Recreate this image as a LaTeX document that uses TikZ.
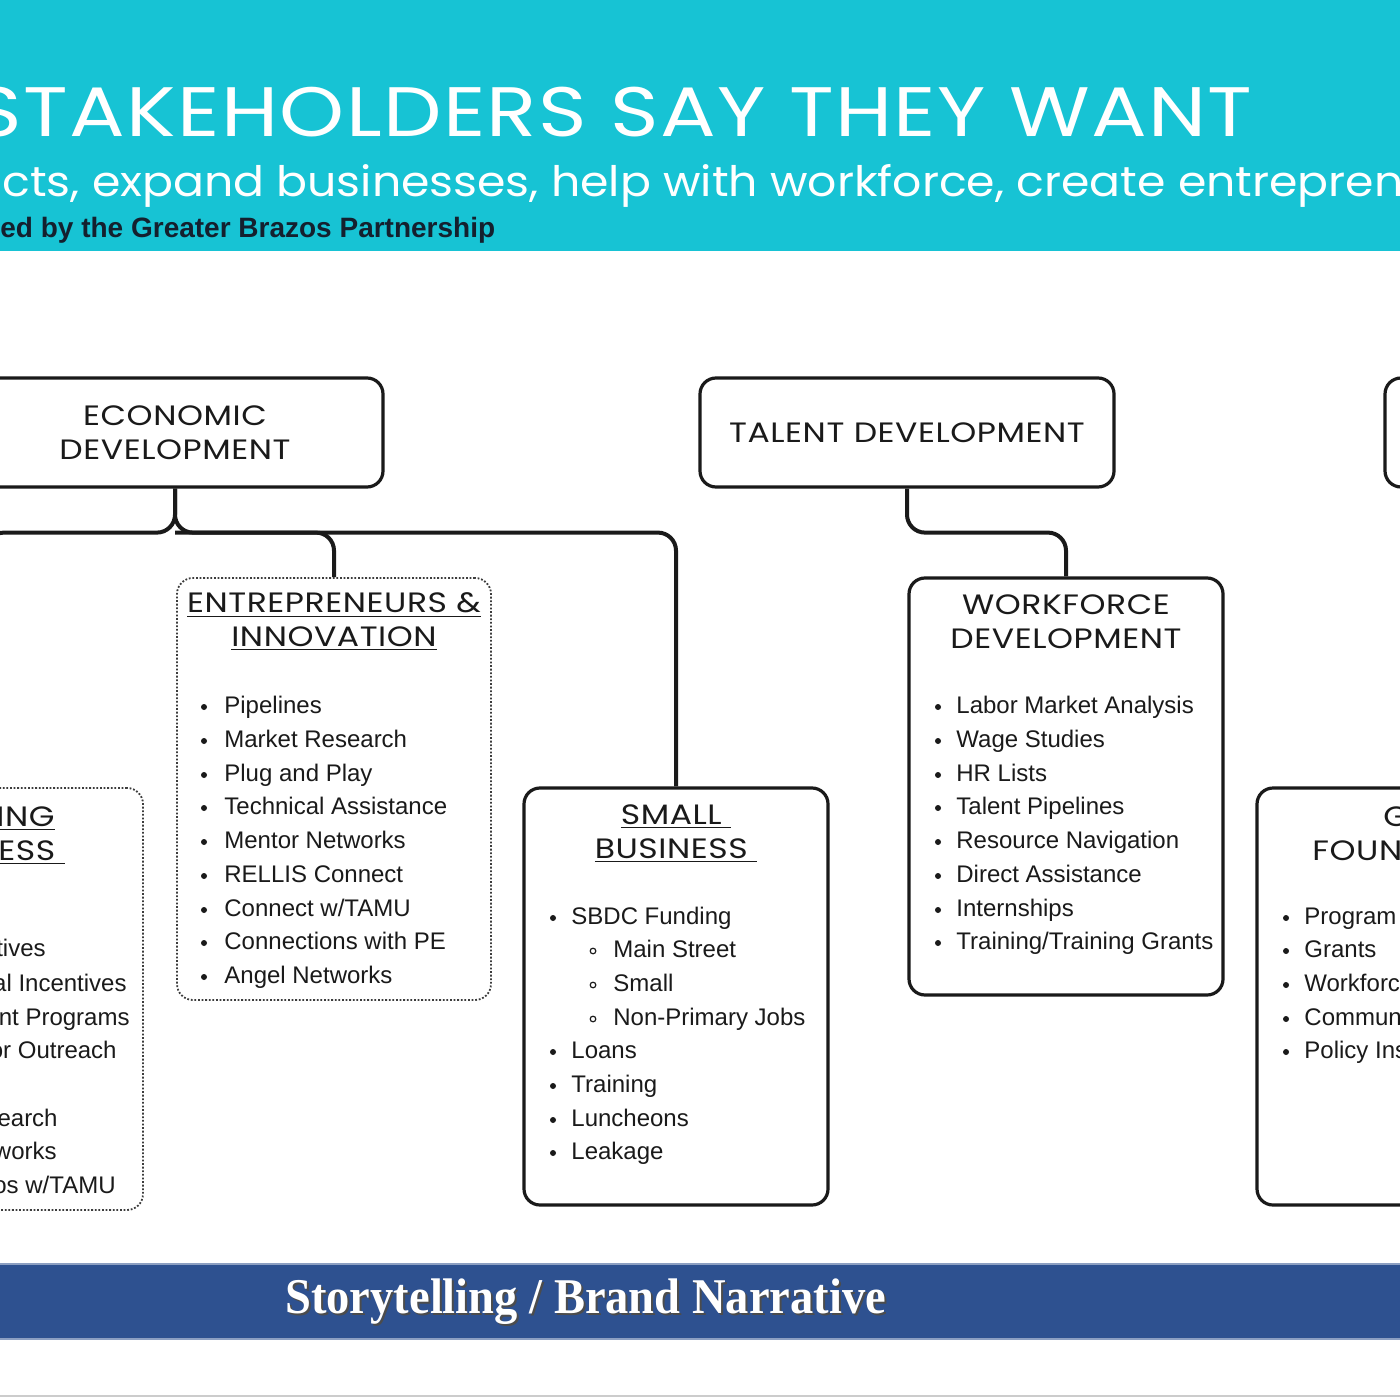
\documentclass[tikz,border=0pt]{standalone}
\usepackage{fontspec}
\setmainfont{Liberation Sans}
\newfontfamily\headfont[FakeStretch=1.18, LetterSpace=2]{Poppins}
\newfontfamily\titlefont[FakeStretch=1.18, LetterSpace=2]{Poppins}
\newfontfamily\subfont[FakeStretch=1.09]{Poppins}
\newfontfamily\barfont{Liberation Serif}
\definecolor{cyanband}{HTML}{17C3D4}
\definecolor{navybar}{HTML}{2E5190}
\definecolor{subdark}{HTML}{14202E}
\definecolor{inkc}{HTML}{1A1A1A}
\begin{document}
\begin{tikzpicture}[x=0.5pt,y=-0.5pt,
  box/.style={draw=inkc, line width=1.6pt, rounded corners=8pt, fill=white},
  dotbox/.style={draw=inkc!85, line width=0.9pt, dash pattern=on 0.9pt off 0.9pt, rounded corners=8pt, fill=white},
  conn/.style={draw=inkc, line width=2pt, rounded corners=9pt},
  headtxt/.style={font=\headfont\fontsize{14}{17}\selectfont, align=center, inner sep=0, text=inkc},
  item/.style={font=\fontsize{12}{14}\selectfont, anchor=base west, inner sep=0, text=inkc},
  itemr/.style={font=\fontsize{12}{14}\selectfont, anchor=base east, inner sep=0, text=inkc},
  dotb/.style={fill=inkc},
  ringb/.style={draw=inkc, line width=0.6pt}
]
\useasboundingbox (0,0) rectangle (1400,1400);
\clip (0,0) rectangle (1400,1400);
\fill[white] (0,0) rectangle (1400,1400);
% header band
\fill[cyanband] (0,0) rectangle (1400,251);
\node[anchor=base east, inner sep=0, text=white, font=\titlefont\fontsize{35}{40}\selectfont] (title) at (1253,137) {STAKEHOLDERS SAY THEY WANT};
\node[anchor=base west, inner sep=0, text=white, font=\subfont\fontsize{21}{24}\selectfont] (sub) at (2,197) {cts, expand businesses, help with workforce, create entrepren};
\node[anchor=base west, inner sep=0, text=subdark, font=\bfseries\fontsize{14}{16}\selectfont] (spons) at (0,238) {ed by the Greater Brazos Partnership};

% top-level boxes
\node[box, minimum width=208pt, minimum height=54.5pt, headtxt] (econ) at (175,432.5) {ECONOMIC\\DEVELOPMENT};
\node[box, minimum width=207pt, minimum height=54.5pt, headtxt] (talent) at (907,432.5) {TALENT DEVELOPMENT};
\node[box, minimum width=207pt, minimum height=54.5pt] (rtop) at (1592,432.5) {};

% second-level boxes
\node[dotbox, minimum width=157pt, minimum height=211pt] (leftb) at (-14,999) {};
\node[dotbox, minimum width=157pt, minimum height=211pt] (entre) at (334,789) {};
\node[box, minimum width=152pt, minimum height=208.5pt] (smallb) at (676,996.5) {};
\node[box, minimum width=157pt, minimum height=208.5pt] (workf) at (1066,786.5) {};
\node[box, minimum width=157pt, minimum height=208.5pt] (rightb) at (1414,996.5) {};

% connectors
\path (econ.south) ++(0,44) coordinate (ej);
\path (talent.south) ++(0,44) coordinate (tj);
\draw[conn] (econ.south) -- (ej) -| (smallb.north);
\draw[conn] (econ.south) -- (ej) -| (leftb.north);
\draw[conn] (ej) -| (entre.north);
\draw[conn] (talent.south) -- (tj) -| (workf.north);

% headings
\node[headtxt, anchor=base east] (lh1) at (55,826) {\underline{ING}};
\node[headtxt, anchor=base east] (lh2) at (65,860) {\underline{ESS\ }};
\node[headtxt] (enth) at (334,622) {\underline{ENTREPRENEURS \&}\\\underline{INNOVATION}};
\node[headtxt] (smh) at (676,834) {\underline{SMALL\ }\\\underline{BUSINESS\ }};
\node[headtxt] (wfh) at (1066,622) {WORKFORCE\\DEVELOPMENT};
\node[headtxt, anchor=base west] (rh1) at (1383,826) {G};
\node[headtxt, anchor=base west] (rh2) at (1312,860) {FOUN};

% left box items (cut)
\node[itemr] (l1) at (46,956) {tives};
\node[itemr] (l2) at (127,991) {al Incentives};
\node[itemr] (l3) at (130,1025) {nt Programs};
\node[itemr] (l4) at (117,1058) {or Outreach};
\node[itemr] (l5) at (58,1126) {earch};
\node[itemr] (l6) at (57,1159) {works};
\node[itemr] (l7) at (116,1193) {os w/TAMU};

% entrepreneurs items
\foreach \yy/\tx [count=\i] in {705/{Pipelines}, 739/{Market Research}, 773/{Plug and Play}, 806/{Technical Assistance}, 840/{Mentor Networks}, 874/{RELLIS Connect}, 908/{Connect w/TAMU}, 941/{Connections with PE}, 975/{Angel Networks}}{
  \fill[dotb] (204,\yy+2) circle (1.5pt);
  \node[item] (en\i) at (224,\yy+8) {\tx};
}

% small business items
\foreach \yy/\tx [count=\i] in {916/{SBDC Funding}, 1050/{Loans}, 1084/{Training}, 1118/{Luncheons}, 1151/{Leakage}}{
  \fill[dotb] (553,\yy+2) circle (1.5pt);
  \node[item] (sb\i) at (571,\yy+8) {\tx};
}
\foreach \yy/\tx [count=\i] in {949/{Main Street}, 983/{Small}, 1017/{Non-Primary Jobs}}{
  \draw[ringb] (593,\yy+2) circle (1.4pt);
  \node[item] (ss\i) at (613,\yy+8) {\tx};
}

% workforce items
\foreach \yy/\tx [count=\i] in {705/{Labor Market Analysis}, 739/{Wage Studies}, 773/{HR Lists}, 806/{Talent Pipelines}, 840/{Resource Navigation}, 874/{Direct Assistance}, 908/{Internships}, 941/{Training/Training Grants}}{
  \fill[dotb] (938,\yy+2) circle (1.5pt);
  \node[item] (wf\i) at (956,\yy+8) {\tx};
}

% right box items (cut)
\foreach \yy/\tx [count=\i] in {916/{Program}, 949/{Grants}, 983/{Workforc}, 1017/{Commun}, 1050/{Policy Ins}}{
  \fill[dotb] (1286,\yy+2) circle (1.5pt);
  \node[item] (rb\i) at (1304,\yy+8) {\tx};
}

% bottom bar
\fill[navybar] (0,1265) rectangle (1400,1338);
\draw[navybar!55, line width=0.8pt] (0,1264) -- (1400,1264);
\draw[navybar!55, line width=0.8pt] (0,1339) -- (1400,1339);
\node[anchor=base west, inner sep=0, text=black!70, font=\barfont\bfseries\fontsize{25}{30}\selectfont] (barsh) at (287,1315) {\scalebox{0.93}[1]{Storytelling / Brand Narrative}};
\node[anchor=base west, inner sep=0, text=white, font=\barfont\bfseries\fontsize{25}{30}\selectfont] (bar) at (285,1313) {\scalebox{0.93}[1]{Storytelling / Brand Narrative}};
\draw[black!20, line width=1.2pt] (0,1396) -- (1400,1396);
\end{tikzpicture}
\end{document}
